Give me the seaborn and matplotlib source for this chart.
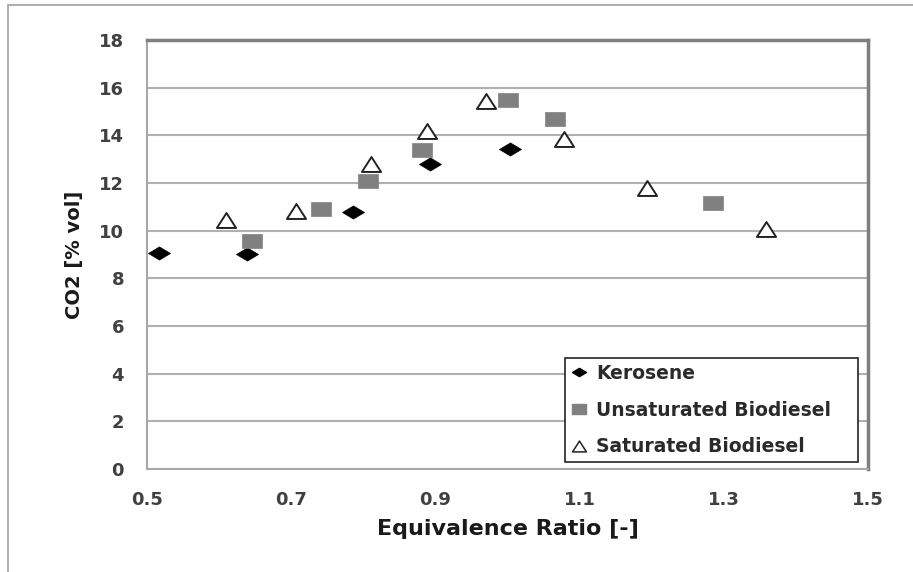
import numpy as np
import pandas as pd
import matplotlib
matplotlib.use("Agg")
import matplotlib.pyplot as plt
import seaborn as sns
from matplotlib.path import Path
from matplotlib.markers import MarkerStyle
from matplotlib.lines import Line2D
from matplotlib.patches import Rectangle

# ---- data ----
kerosene_x = [0.517, 0.639, 0.786, 0.892, 1.004]
kerosene_y = [9.08, 9.04, 10.78, 12.78, 13.44]

unsat_x = [0.645, 0.741, 0.807, 0.882, 1.001, 1.066, 1.285]
unsat_y = [9.57, 10.90, 12.07, 13.40, 15.49, 14.68, 11.14]

sat_x = [0.610, 0.706, 0.810, 0.888, 0.970, 1.078, 1.194, 1.359]
sat_y = [10.46, 10.81, 12.81, 14.18, 15.46, 13.86, 11.81, 10.09]

series_names = ["Kerosene", "Unsaturated Biodiesel", "Saturated Biodiesel"]
x_ticks = [0.5, 0.7, 0.9, 1.1, 1.3, 1.5]
y_ticks = [0, 2, 4, 6, 8, 10, 12, 14, 16, 18]

df = pd.concat([
    pd.DataFrame({"phi": kerosene_x, "co2": kerosene_y, "fuel": series_names[0]}),
    pd.DataFrame({"phi": unsat_x, "co2": unsat_y, "fuel": series_names[1]}),
    pd.DataFrame({"phi": sat_x, "co2": sat_y, "fuel": series_names[2]}),
])

# ---- markers (Excel-like, slightly wide) ----
diamond = MarkerStyle(Path([(-1, 0), (0, 0.6), (1, 0), (0, -0.6), (-1, 0)], closed=True))
rect = MarkerStyle(Path([(-1, -0.68), (1, -0.68), (1, 0.68), (-1, 0.68), (-1, -0.68)], closed=True))
tri = MarkerStyle(Path([(-1, -0.78), (1, -0.78), (0, 0.78), (-1, -0.78)], closed=True))

sns.set_style("white")
plt.rcParams["font.family"] = ["DejaVu Sans"]

fig = plt.figure(figsize=(9.13, 5.72), dpi=100)
ax = fig.add_axes([147 / 913, 1 - 469 / 572, (868 - 147) / 913, (469 - 40) / 572])

styles = {
    series_names[0]: dict(marker=diamond, s=250, color="black", edgecolor="black", linewidth=0.5),
    series_names[1]: dict(marker=rect, s=190, color="#808080", edgecolor="#808080", linewidth=0.5),
    series_names[2]: dict(marker=tri, s=190, color="white", edgecolor="#222222", linewidth=1.4),
}
for name in series_names:
    sub = df[df["fuel"] == name]
    sns.scatterplot(data=sub, x="phi", y="co2", ax=ax, legend=False, zorder=3, **styles[name])

ax.set_xlim(0.5, 1.5)
ax.set_ylim(0, 18)
ax.set_xticks(x_ticks)
ax.set_xticklabels([f"{v:g}" for v in x_ticks])
ax.set_yticks(y_ticks)
ax.yaxis.grid(True, color="#b0b0b0", linewidth=1.5)
ax.xaxis.grid(False)

for side in ["left", "bottom"]:
    ax.spines[side].set_color("#a8a8a8")
    ax.spines[side].set_linewidth(1.5)
for side in ["top", "right"]:
    ax.spines[side].set_color("#7f7f7f")
    ax.spines[side].set_linewidth(2.5)
    ax.spines[side].set_visible(True)

ax.tick_params(axis="both", which="major", direction="out", length=6.5, width=1.2,
               color="#a8a8a8", labelsize=13, labelcolor="#404040")
ax.tick_params(axis="y", pad=10)
ax.tick_params(axis="x", pad=9)
for lab in ax.get_xticklabels() + ax.get_yticklabels():
    lab.set_fontweight("bold")

ax.set_xlabel("Equivalence Ratio [-]", fontsize=16, fontweight="bold", color="#1a1a1a")
ax.set_ylabel("CO2 [% vol]", fontsize=14, fontweight="bold", color="#1a1a1a")
ax.xaxis.set_label_coords(0.5, -0.117)
ax.yaxis.set_label_coords(-0.088, 0.5)

handles = [
    Line2D([], [], linestyle="none", marker=diamond, markersize=10, markerfacecolor="black", markeredgecolor="black"),
    Line2D([], [], linestyle="none", marker=rect, markersize=10, markerfacecolor="#808080", markeredgecolor="#808080"),
    Line2D([], [], linestyle="none", marker=tri, markersize=10, markerfacecolor="white", markeredgecolor="#222222", markeredgewidth=1.1),
]
leg = ax.legend(handles, series_names, loc="lower left",
                bbox_to_anchor=((565 - 147) / 721, (469 - 462) / 429, (858 - 565) / 721, (462 - 354) / 429),
                mode="expand", borderaxespad=0, frameon=True, fancybox=False, framealpha=1,
                edgecolor="#222222", handlelength=0.9, handletextpad=0.45, borderpad=0.3,
                labelspacing=0.95, prop={"family": "DejaVu Sans", "weight": "bold", "size": 13.5})
leg.get_frame().set_linewidth(1.2)
for t in leg.get_texts():
    t.set_color("#2a2a2a")

# outer chart-area border (cropped Excel chart frame)
fig.patches.append(Rectangle((8 / 913, -0.2), 1.2, 1.2 - 5 / 572, transform=fig.transFigure,
                             fill=False, edgecolor="#a0a0a0", linewidth=1.2, zorder=0))

fig.savefig("out.png", dpi=100)
